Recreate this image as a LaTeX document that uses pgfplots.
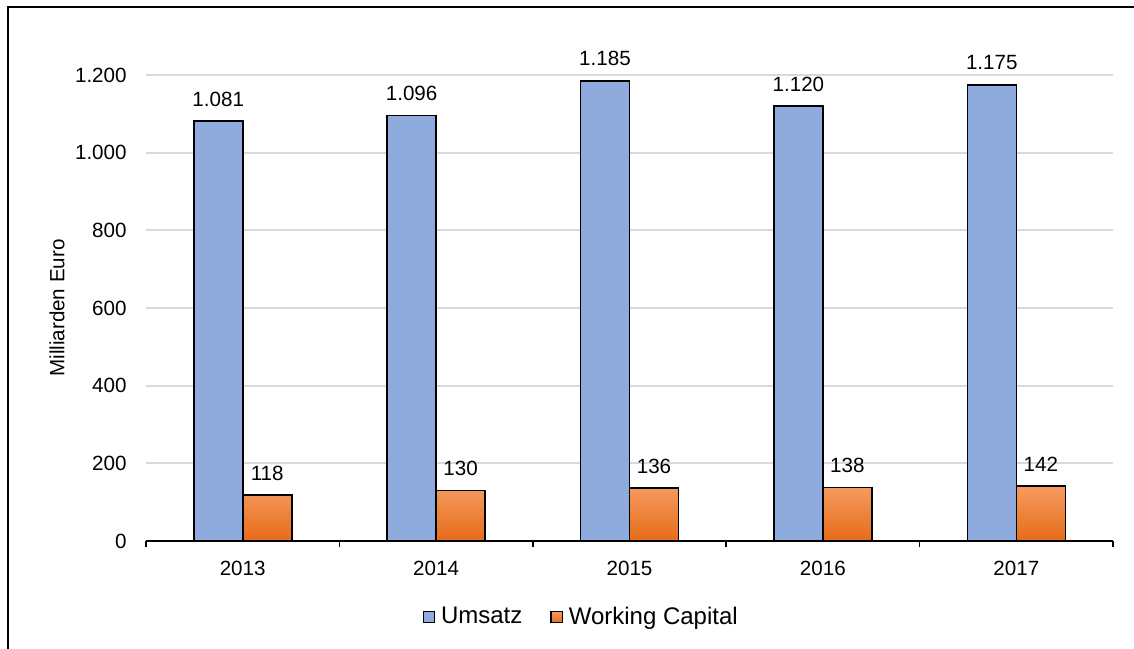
\documentclass[border=0pt]{standalone}
\usepackage{fontspec}
\setmainfont{Liberation Sans}
\usepackage{pgfplots}
\pgfplotsset{compat=1.18}

\definecolor{umsatz}{RGB}{143,170,220}
\definecolor{wctop}{RGB}{245,155,95}
\definecolor{wcbot}{RGB}{230,108,25}
\definecolor{gridgray}{RGB}{217,217,217}

\begin{document}
\begin{tikzpicture}
\useasboundingbox (0,0) rectangle (567pt,324pt);
\clip (0,0) rectangle (567pt,324pt);
\draw[line width=1pt] (3.75pt,-10pt) rectangle (580pt,320.25pt);
\begin{axis}[
    at={(73pt,53.5pt)}, anchor=south west,
    scale only axis,
    width=483.5pt, height=233pt,
    ymin=0, ymax=1200,
    xmin=-0.5, xmax=4.5,
    ybar=0pt, bar width=24.5pt,
    clip=false,
    axis x line*=bottom,
    axis y line*=left,
    y axis line style={draw=none},
    x axis line style={line width=0.75pt},
    ytick={0,200,...,1200},
    ytick style={draw=none},
    xtick={-0.5,0.5,...,4.5},
    x tick label as interval,
    xticklabels={2013,2014,2015,2016,2017},
    xtick style={line width=0.75pt, black},
    tick align=outside,
    major tick length=3pt,
    ymajorgrids,
    grid style={gridgray, line width=1pt},
    tick label style={font=\fontsize{10.3}{12}\selectfont},
    yticklabel style={inner sep=0pt, xshift=-6.5pt},
    xticklabel style={inner sep=0pt, anchor=north, yshift=-7pt},
    /pgf/number format/.cd, fixed, precision=0, 1000 sep={.}, assume math mode=true,
    /pgfplots/.cd,
    ylabel={Milliarden Euro},
    ylabel style={at={(axis description cs:-0.092,0.5)}, anchor=center,
        font=\fontsize{10.3}{12}\selectfont},
    nodes near coords,
    nodes near coords style={anchor=south, inner sep=0pt, yshift=7pt,
        font=\fontsize{10.3}{12}\selectfont},
    legend columns=2,
    legend style={at={(rel axis cs:0.449,-0.163)}, anchor=center, draw=none,
        inner sep=0pt, nodes={inner sep=0pt},
        font=\fontsize{12}{14}\selectfont,
        /tikz/every even column/.append style={column sep=14pt},
        /tikz/every odd column/.append style={column sep=2.8pt}},
    legend image code/.code={\draw[#1, line width=0.6pt] (0pt,-2.9pt) rectangle (5.8pt,2.9pt);},
]
\addplot[draw=black, line width=0.8pt, fill=umsatz] coordinates {
    (0,1081) (1,1096) (2,1185) (3,1120) (4,1175)
};
\addplot[draw=black, line width=0.8pt, top color=wctop, bottom color=wcbot] coordinates {
    (0,118) (1,130) (2,136) (3,138) (4,142)
};
\legend{Umsatz, Working Capital}
\end{axis}
\end{tikzpicture}
\end{document}
